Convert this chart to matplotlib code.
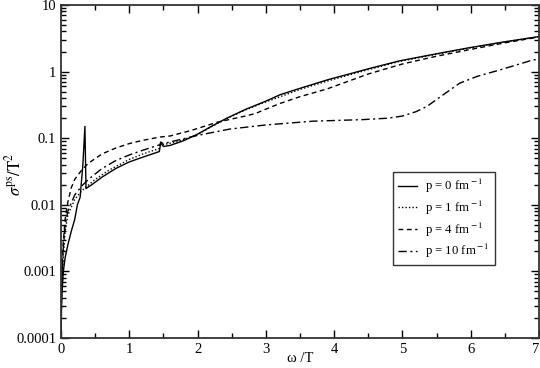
import matplotlib
matplotlib.use("Agg")
import matplotlib.pyplot as plt
import numpy as np
from matplotlib.ticker import LogLocator, FuncFormatter, MultipleLocator, FixedLocator

matplotlib.rcParams.update({'font.size': 10,
                            'font.family': 'Liberation Serif',
                            'mathtext.fontset': 'stix'})

# p = 0 fm^-1
x0 = [0.0, 0.01, 0.034, 0.06, 0.1, 0.15, 0.2, 0.24, 0.28, 0.32, 0.35, 0.366, 0.4, 0.45,
      0.6, 0.8, 1.0, 1.2, 1.44, 1.46, 1.5, 1.6, 1.8, 2.0, 2.2, 2.43, 2.7, 3.0, 3.21,
      3.5, 3.9, 4.5, 4.96, 5.5, 6.0, 6.5, 7.0]
y0 = [0.0001, 0.0004, 0.001, 0.0016, 0.0025, 0.004, 0.006, 0.01, 0.013, 0.04, 0.15,
      0.0175, 0.0185, 0.02, 0.026, 0.035, 0.044, 0.052, 0.063, 0.085, 0.075, 0.078,
      0.092, 0.115, 0.15, 0.2, 0.27, 0.36, 0.45, 0.56, 0.75, 1.1, 1.45, 1.85, 2.3,
      2.8, 3.35]

# p = 1 fm^-1
x1 = [0.0, 0.005, 0.015, 0.03, 0.06, 0.1, 0.2, 0.3, 0.38, 0.5, 0.7, 1.0, 1.2, 1.44,
      1.46, 1.5, 1.7, 2.0, 2.2, 2.43, 2.7, 3.0, 3.5, 3.9, 4.5, 4.96, 5.5, 6.0, 6.5, 7.0]
y1 = [0.0001, 0.0003, 0.0008, 0.0015, 0.004, 0.007, 0.012, 0.016, 0.019, 0.024,
      0.033, 0.048, 0.058, 0.07, 0.087, 0.08, 0.088, 0.113, 0.148, 0.198, 0.265,
      0.35, 0.54, 0.72, 1.07, 1.42, 1.82, 2.27, 2.78, 3.33]

# p = 4 fm^-1
x4 = [0.0, 0.005, 0.015, 0.03, 0.06, 0.1, 0.15, 0.2, 0.3, 0.4, 0.6, 0.8, 1.0, 1.2,
      1.45, 1.6, 1.7, 1.9, 2.3, 2.7, 2.85, 2.95, 3.2, 3.5, 3.9, 4.5, 5.0, 5.5, 6.0,
      6.5, 7.0]
y4 = [0.0001, 0.0004, 0.001, 0.0025, 0.006, 0.011, 0.018, 0.024, 0.033, 0.042, 0.058,
      0.071, 0.083, 0.093, 0.104, 0.108, 0.115, 0.13, 0.175, 0.215, 0.235, 0.26,
      0.33, 0.42, 0.55, 0.92, 1.3, 1.7, 2.15, 2.7, 3.3]

# p = 10 fm^-1
x10 = [0.0, 0.01, 0.03, 0.06, 0.1, 0.2, 0.3, 0.4, 0.6, 0.8, 1.0, 1.2, 1.45, 1.46, 1.5,
       1.7, 2.0, 2.47, 3.0, 3.69, 4.42, 4.8, 5.0, 5.2, 5.36, 5.6, 5.84, 6.1, 6.43,
       6.87, 7.0]
y10 = [0.0001, 0.0005, 0.002, 0.005, 0.008, 0.014, 0.019, 0.024, 0.035, 0.046, 0.056,
       0.066, 0.08, 0.087, 0.083, 0.093, 0.11, 0.137, 0.158, 0.18, 0.19, 0.2, 0.215,
       0.25, 0.3, 0.45, 0.67, 0.85, 1.06, 1.45, 1.55]

labels = [r'p = 0 fm$^{\rm -1}$', r'p = 1 fm$^{\rm -1}$',
          r'p = 4 fm$^{\rm -1}$', r'p = 10 fm$^{\rm -1}$']
xticks = [0, 1, 2, 3, 4, 5, 6, 7]

fig = plt.figure(figsize=(5.4, 3.68), dpi=100)
ax = fig.add_axes([0.113, 0.0815, 0.885, 0.905])

ax.plot(x0, y0, color='k', lw=1.0, ls='-', label=labels[0])
ax.plot(x1, y1, color='k', lw=1.0, ls=(0, (1, 1.5)), label=labels[1])
ax.plot(x4, y4, color='k', lw=1.0, ls=(0, (3.5, 2.5)), label=labels[2])
ax.plot(x10, y10, color='k', lw=1.0, ls=(0, (6, 2.5, 1.5, 2.5)), label=labels[3])

ax.set_yscale('log')
ax.set_xlim(0, 7)
ax.set_ylim(0.0001, 10)
ax.xaxis.set_major_locator(FixedLocator(xticks))
ax.xaxis.set_minor_locator(MultipleLocator(0.5))
ax.yaxis.set_major_locator(LogLocator(base=10, numticks=10))
ax.yaxis.set_minor_locator(LogLocator(base=10, subs=np.arange(2, 10), numticks=20))
ax.yaxis.set_major_formatter(FuncFormatter(lambda v, p: '%g' % v))
ax.tick_params(which='both', direction='in', top=True, right=True, labelsize=10.5)
ax.tick_params(which='major', length=6, width=1.0)
ax.tick_params(which='minor', length=3.5, width=1.0)
for s in ax.spines.values():
    s.set_linewidth(1.3)
    s.set_color('#333333')

ax.set_xlabel(r'ω /T', fontsize=10.5)
ax.xaxis.set_label_coords(0.5, -0.042)
ax.set_ylabel(r'$\sigma^{\rm ps}/\rm T^2$', fontsize=12)
ax.yaxis.set_label_coords(-0.077, 0.49)

fig.canvas.draw()
ax.xaxis.get_major_ticks()[len(xticks) - 1].label1.set_horizontalalignment('right')

leg = ax.legend(loc='upper left', bbox_to_anchor=(0.695, 0.4985), borderaxespad=0,
                fancybox=False, edgecolor='#333333', framealpha=1, handlelength=1.5,
                handletextpad=0.6, borderpad=0.4, labelspacing=0.28, fontsize=9.2)
leg.get_frame().set_linewidth(1.0)

plt.savefig('out.png', dpi=100)
